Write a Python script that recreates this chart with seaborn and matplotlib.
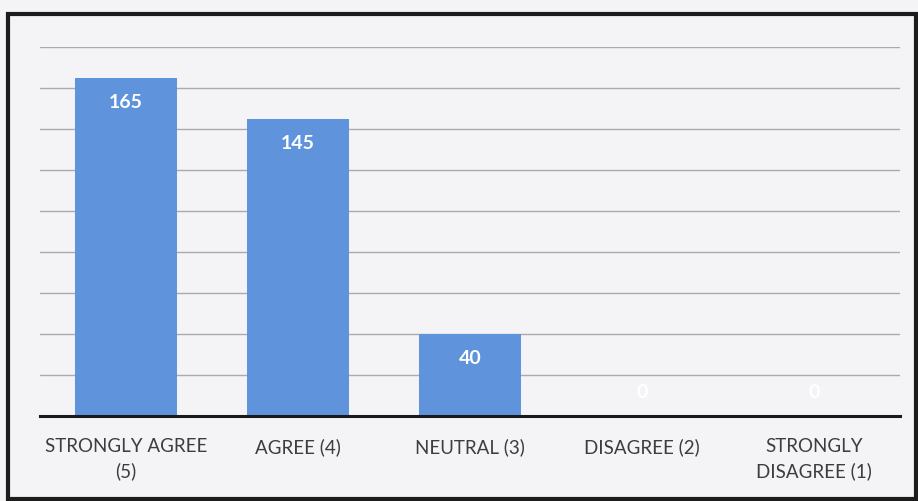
import numpy as np
import pandas as pd
import matplotlib
matplotlib.use("Agg")
import matplotlib.pyplot as plt
import seaborn as sns
from matplotlib.patches import Rectangle

# data
categories = ["STRONGLY AGREE\n(5)", "AGREE (4)", "NEUTRAL (3)", "DISAGREE (2)", "STRONGLY\nDISAGREE (1)"]
responses = [165, 145, 40, 0, 0]
y_ticks = list(range(0, 181, 20))

df = pd.DataFrame({"category": categories, "count": responses})

sns.set_style("white")
plt.rcParams["font.family"] = ["Lato", "DejaVu Sans"]

bg = "#f4f4f6"
bar_color = "#5f93db"

fig = plt.figure(figsize=(9.18, 5.01), dpi=100, facecolor=bg)
ax = fig.add_axes([0.0436, 0.170, 0.9368, 0.736])
ax.set_facecolor(bg)

sns.barplot(data=df, x="category", y="count", color=bar_color, width=0.59,
            saturation=1, linewidth=0, ax=ax, zorder=3)

ax.set_ylim(0, 180)
ax.set_yticks(y_ticks)
ax.yaxis.grid(True, color="#a9a9ae", linewidth=1.0, zorder=0)
ax.tick_params(axis="y", length=0, labelleft=False)
ax.tick_params(axis="x", length=0, labelsize=13.5, labelcolor="#3d3d3d", pad=16)
for lbl in ax.get_xticklabels():
    lbl.set_linespacing(1.45)
ax.set_xlabel("")
ax.set_ylabel("")
for side in ["top", "right", "left"]:
    ax.spines[side].set_visible(False)
ax.spines["bottom"].set_color("#1a1a1a")
ax.spines["bottom"].set_linewidth(2.2)
ax.spines["bottom"].set_zorder(4)

# value labels inside the bar ends
for i, v in enumerate(responses):
    ax.annotate(str(v), (i, v), xytext=(0, -18 if v > 0 else 17),
                textcoords="offset points", ha="center", va="center",
                color="white", fontsize=14, fontweight="bold", zorder=5)

# outer frame
fig.patches.append(Rectangle((8 / 918, 2 / 501), 908 / 918, 485 / 501,
                             transform=fig.transFigure, fill=False,
                             edgecolor="#1c1c1c", linewidth=3))

fig.savefig("out.png", dpi=100, facecolor=bg)
